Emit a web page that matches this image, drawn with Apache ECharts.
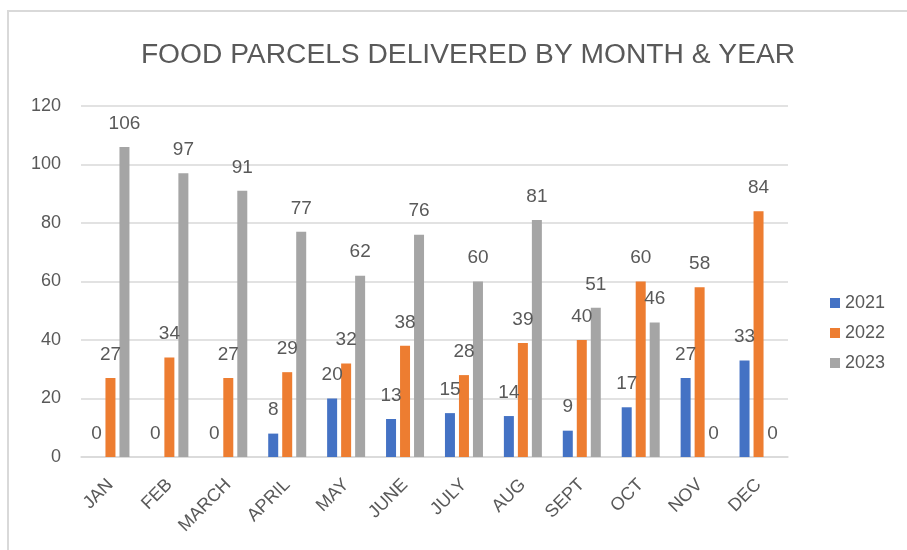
<!DOCTYPE html>
<html>
<head>
<meta charset="utf-8">
<script src="https://cdn.jsdelivr.net/npm/echarts@6/dist/echarts.min.js"></script>
<style>html,body{margin:0;padding:0;background:#fff;}#c{width:907px;height:550px;}</style>
</head>
<body>
<div id="c"></div>
<script>
const categories = ['JAN','FEB','MARCH','APRIL','MAY','JUNE','JULY','AUG','SEPT','OCT','NOV','DEC'];
const s2021 = [0,0,0,8,20,13,15,14,9,17,27,33];
const s2022 = [27,34,27,29,32,38,28,39,40,60,58,84];
const s2023 = [106,97,91,77,62,76,60,81,51,46,0,0];
const seriesNames = ['2021','2022','2023'];
const colors = ['#4472C4','#ED7D31','#A5A5A5'];
const yTicks = [0,20,40,60,80,100,120];

const chart = echarts.init(document.getElementById('c'), null, {renderer:'canvas'});
const FONT = 'Liberation Sans';
const TXT = '#595959';
const dataSets = [s2021, s2022, s2023];
chart.setOption({
  animation: false,
  backgroundColor: '#fff',
  title: {
    text: 'FOOD PARCELS DELIVERED BY MONTH & YEAR',
    left: 463, top: 36, textAlign: 'center',
    textStyle: {fontFamily: FONT, fontSize: 28.2, fontWeight: 'normal', color: TXT}
  },
  legend: {
    orient: 'vertical', left: 825, top: 289, itemGap: 12,
    itemWidth: 10, itemHeight: 10, icon: 'rect',
    textStyle: {fontFamily: FONT, fontSize: 18, color: TXT},
    data: seriesNames
  },
  grid: {left: 81, right: 119, top: 106, bottom: 93, containLabel: false},
  xAxis: {
    type: 'category', data: categories,
    axisLine: {lineStyle: {color: '#d9d9d9', width: 1.5}},
    axisTick: {show: false},
    axisLabel: {rotate: 45, fontFamily: FONT, fontSize: 18, color: TXT, margin: 25, interval: 0}
  },
  yAxis: {
    type: 'value', min: yTicks[0], max: yTicks[yTicks.length-1], interval: 20,
    axisLine: {show: false}, axisTick: {show: false},
    splitLine: {lineStyle: {color: '#d9d9d9', width: 1.5}},
    axisLabel: {fontFamily: FONT, fontSize: 18, color: TXT, margin: 20}
  },
  graphic: [{
    type: 'rect', shape: {x: 8, y: 11, width: 1000, height: 1000},
    style: {fill: 'none', stroke: '#d9d9d9', lineWidth: 2}, silent: true
  }],
  series: seriesNames.map((n, i) => ({
    name: n, type: 'bar', data: dataSets[i], barWidth: 10, barGap: '40%',
    itemStyle: {color: colors[i]},
    label: {show: true, position: 'top', distance: 14, fontFamily: FONT, fontSize: 19, color: TXT}
  }))
});
</script>
</body>
</html>
